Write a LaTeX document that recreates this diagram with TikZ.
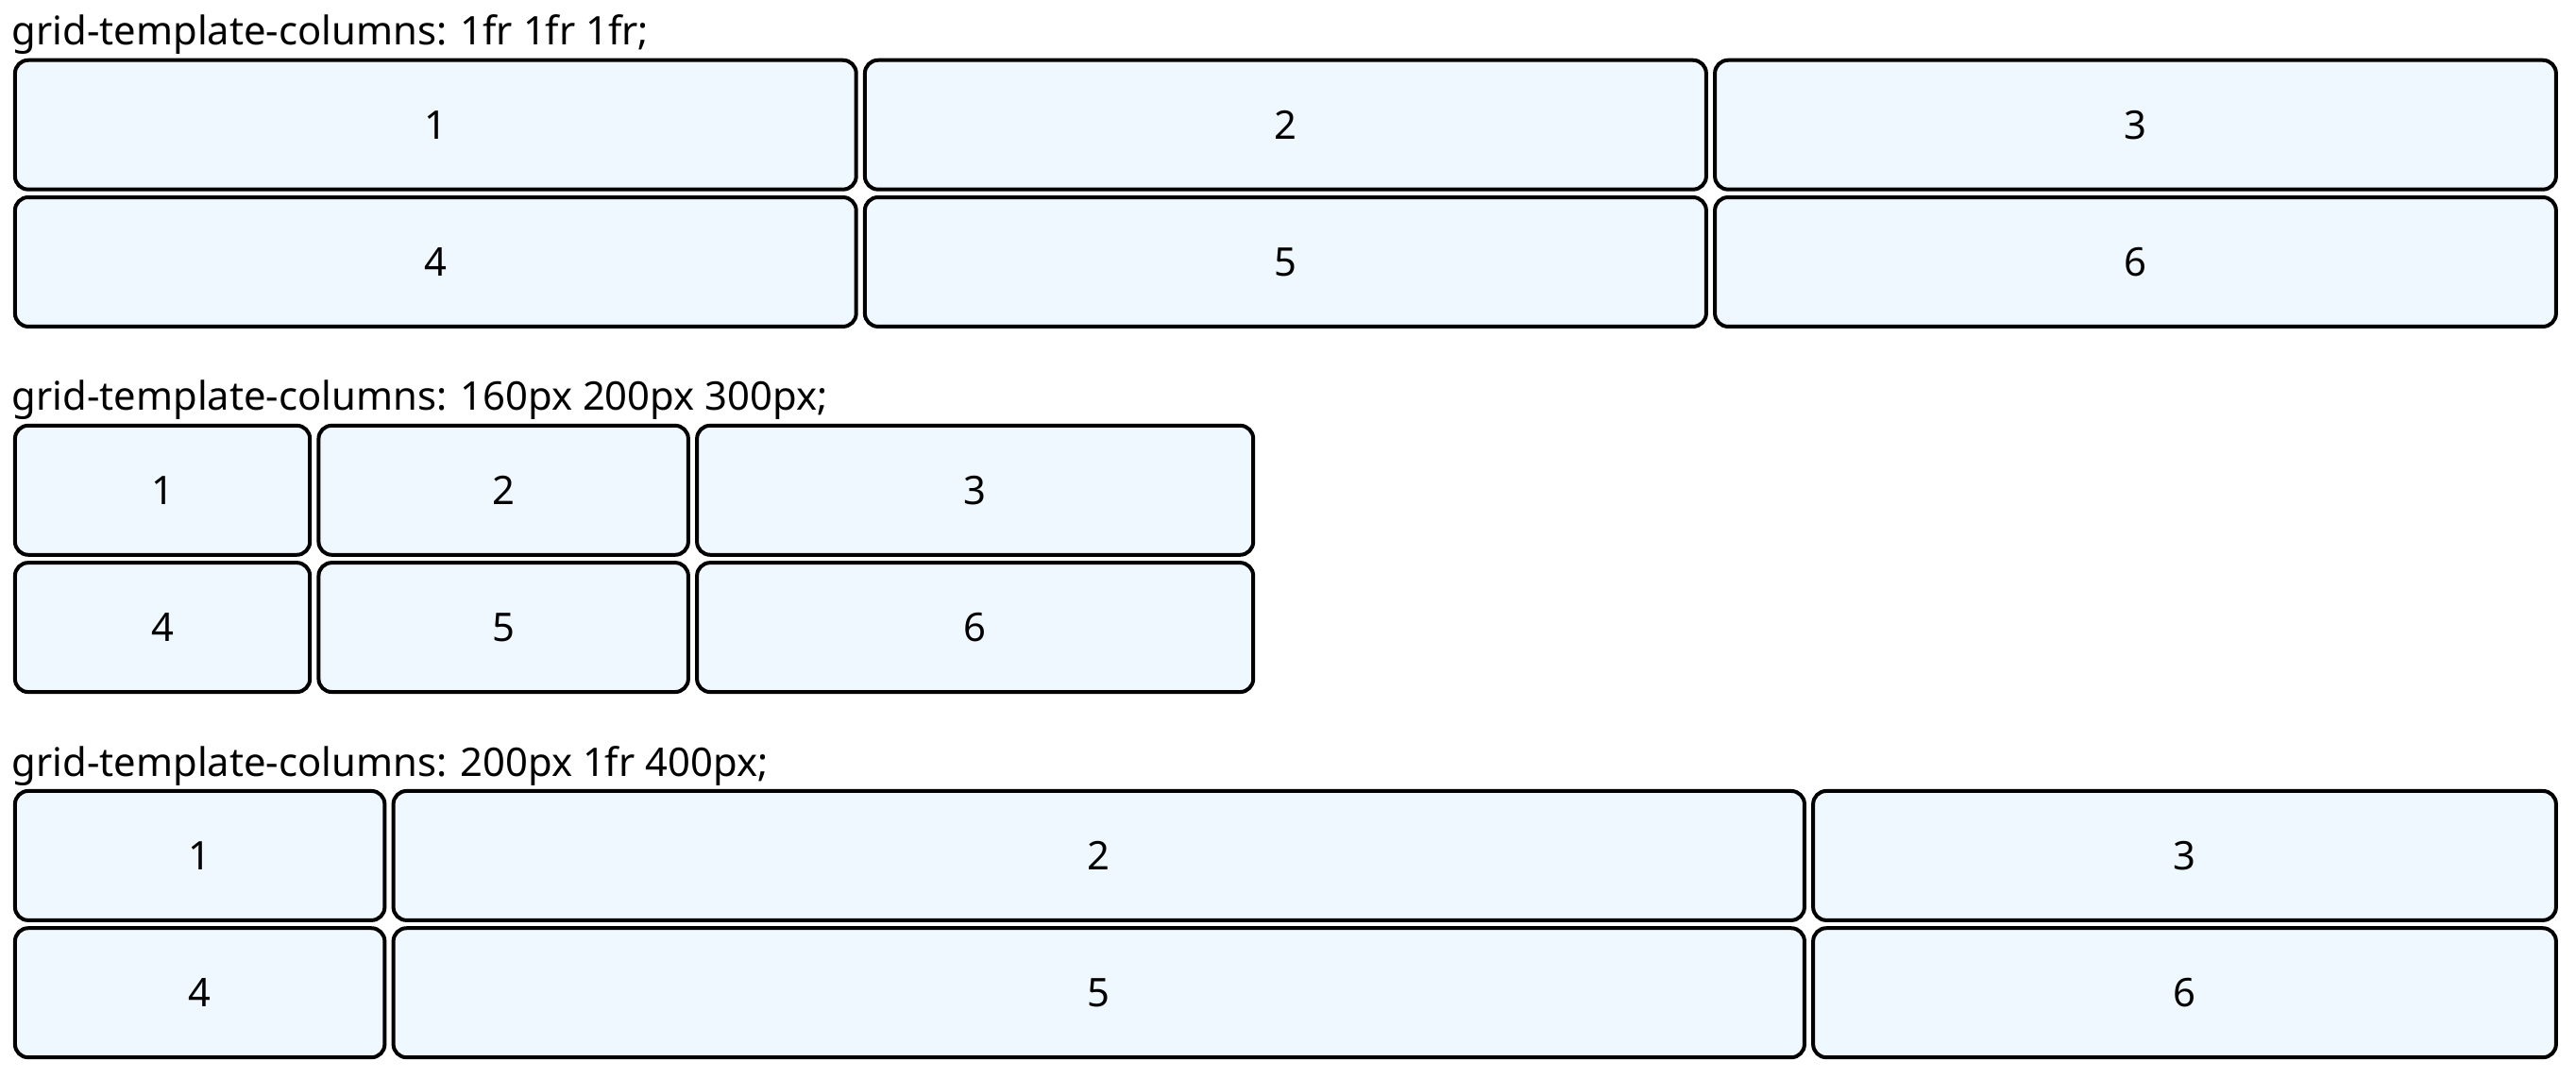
\documentclass[tikz,border=0pt]{standalone}
\usepackage{fontspec}
\setmainfont{Noto Sans}
\definecolor{cellfill}{HTML}{F0F8FF}
\tikzset{
  cellbox/.style={draw=black, fill=cellfill, line width=1.15pt, rounded corners=4pt,
    inner sep=0pt, outer sep=0pt, font=\fontsize{12}{14}\selectfont},
  gridtitle/.style={anchor=base west, inner sep=0pt, font=\fontsize{12}{14}\selectfont}
}
\newcommand\gcell[6]{%
  \pgfmathsetlengthmacro\cw{(#3-#2)*0.5pt-1.15pt}%
  \pgfmathsetlengthmacro\ch{(#5-#4)*0.5pt-1.15pt}%
  \node[cellbox, minimum width=\cw, minimum height=\ch] (#1) at ({(#2+#3)/2},{(#4+#5)/2}) {#6};}
\begin{document}
\begin{tikzpicture}[x=0.5pt,y=-0.5pt]
\useasboundingbox (0,0) rectangle (1568,656);
% grid 1
\node[gridtitle] (t1) at (7,27.5) {grid-template-columns: 1fr 1fr 1fr;};
\gcell{a1}{8}{522.3}{35.5}{116.5}{1}
\gcell{a2}{525.3}{1039.7}{35.5}{116.5}{2}
\gcell{a3}{1042.7}{1557}{35.5}{116.5}{3}
\gcell{a4}{8}{522.3}{119}{200}{4}
\gcell{a5}{525.3}{1039.7}{119}{200}{5}
\gcell{a6}{1042.7}{1557}{119}{200}{6}
% grid 2
\node[gridtitle] (t2) at (7,250) {grid-template-columns: 160px 200px 300px;};
\gcell{b1}{8}{189.8}{258}{339}{1}
\gcell{b2}{192.8}{420.1}{258}{339}{2}
\gcell{b3}{423.1}{764}{258}{339}{3}
\gcell{b4}{8}{189.8}{341.5}{422.5}{4}
\gcell{b5}{192.8}{420.1}{341.5}{422.5}{5}
\gcell{b6}{423.1}{764}{341.5}{422.5}{6}
% grid 3
\node[gridtitle] (t3) at (7,472.5) {grid-template-columns: 200px 1fr 400px;};
\gcell{c1}{8}{235.3}{480.5}{561.5}{1}
\gcell{c2}{238.3}{1099.5}{480.5}{561.5}{2}
\gcell{c3}{1102.5}{1557}{480.5}{561.5}{3}
\gcell{c4}{8}{235.3}{564}{645}{4}
\gcell{c5}{238.3}{1099.5}{564}{645}{5}
\gcell{c6}{1102.5}{1557}{564}{645}{6}
\end{tikzpicture}
\end{document}
